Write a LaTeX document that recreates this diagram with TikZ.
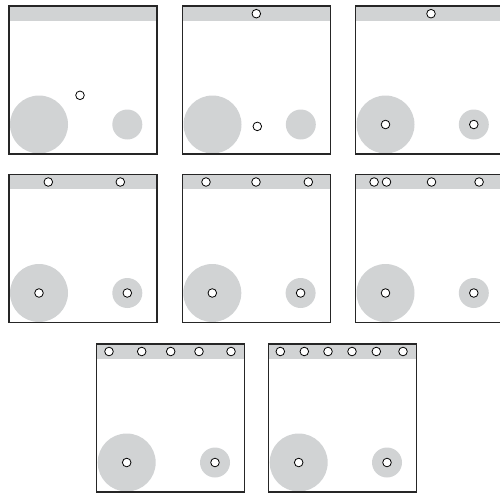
\documentclass[tikz,border=0pt]{standalone}
\definecolor{shade}{RGB}{209,211,212}
\tikzset{
  panelframe/.style={draw=black!85, line width=1.4pt},
  shadefill/.style={fill=shade},
  holestyle/.style={draw=black, fill=white, line width=0.8pt},
}
\newcommand{\holeat}[2]{\draw[holestyle] (#1,#2) circle[radius=4.3pt];}
\newcommand{\sketchpanel}[3]{%
  \begin{scope}[shift={(#1,#2)}]
    \fill[shadefill] (0,0) rectangle (148,14.5);
    \fill[shadefill] (30,118.5) circle[radius=29pt];
    \fill[shadefill] (118.3,118.5) circle[radius=15pt];
    #3
    \draw[panelframe] (0,0) rectangle (148,148);
  \end{scope}}
\newcommand{\centerholes}{\holeat{30}{118.5}\holeat{118.3}{118.5}}
\begin{document}
\begin{tikzpicture}[x=1pt,y=-1pt]
\useasboundingbox (0,0) rectangle (500,493);
\clip (0,0) rectangle (500,493);
% row 1
\sketchpanel{9}{6}{\holeat{71}{89.3}}
\sketchpanel{182.5}{6}{\holeat{73.8}{7.7}\holeat{74.8}{120.4}}
\sketchpanel{355.5}{6}{\holeat{75.5}{7.7}\centerholes}
% row 2
\sketchpanel{9}{174.5}{\holeat{39.3}{7.5}\holeat{111.3}{7.5}\centerholes}
\sketchpanel{182.3}{174.5}{\holeat{23.7}{7.5}\holeat{73.7}{7.5}\holeat{126}{7.5}\centerholes}
\sketchpanel{355.5}{174.5}{\holeat{18.6}{7.5}\holeat{31}{7.5}\holeat{76}{7.5}\holeat{123.6}{7.5}\centerholes}
% row 3
\sketchpanel{96.7}{344}{\holeat{12.3}{7.5}\holeat{45}{7.5}\holeat{74}{7.5}\holeat{102.3}{7.5}\holeat{134.3}{7.5}\centerholes}
\sketchpanel{268.7}{344}{\holeat{11.6}{7.5}\holeat{35.6}{7.5}\holeat{59.3}{7.5}\holeat{83.3}{7.5}\holeat{107.6}{7.5}\holeat{134.3}{7.5}\centerholes}
\end{tikzpicture}
\end{document}
